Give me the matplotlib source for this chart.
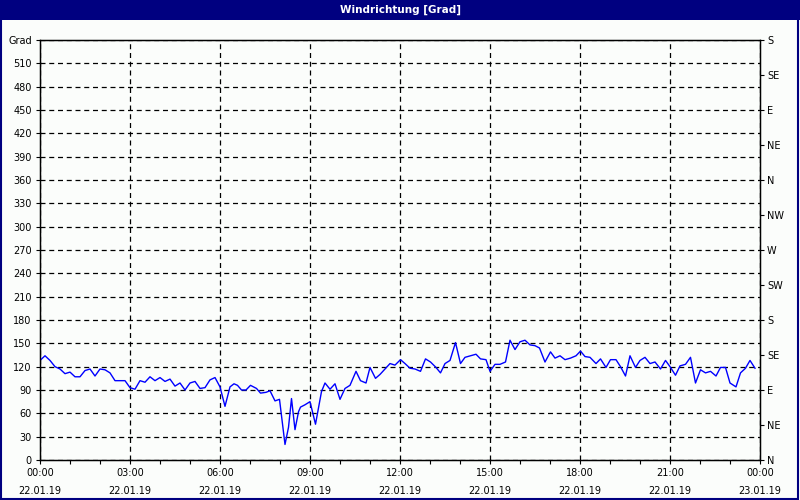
import matplotlib
matplotlib.use("Agg")
import matplotlib.pyplot as plt
import numpy as np
from matplotlib.patches import Rectangle

TITLE = "Windrichtung [Grad]"

# time in minutes after 00:00 on 22.01.19, wind direction in degrees
MINUTES = [
    0, 10, 20, 30, 40, 50, 60, 70, 80, 90, 100, 110, 120, 130, 140, 150, 160, 170,
    180, 190, 200, 210, 220, 230, 240, 250, 260, 270, 280, 290, 300, 310, 320, 330,
    340, 350, 360, 370, 380, 388, 395, 403, 412, 421, 433, 441, 452, 460, 470, 479,
    490, 497, 503, 510, 517, 521, 530, 540, 551, 563, 570, 580, 590, 600, 610, 620,
    632, 641, 652, 660, 671, 680, 690, 700, 710, 721, 730, 740, 750, 761, 771, 781,
    792, 801, 810, 820, 831, 841, 850, 861, 872, 881, 892, 900, 910, 920, 931, 940,
    950, 960, 970, 980, 990, 999, 1010, 1021, 1030, 1040, 1050, 1061, 1072, 1081,
    1090, 1100, 1112, 1121, 1132, 1141, 1152, 1161, 1171, 1180, 1191, 1200, 1210,
    1220, 1230, 1241, 1251, 1260, 1271, 1280, 1291, 1301, 1311, 1321, 1331, 1341,
    1352, 1361, 1371, 1380, 1392, 1401, 1411, 1420, 1430,
]
DIRECTION = [
    128, 134, 128, 120, 117, 111, 113, 107, 107, 115, 117, 108, 117, 116, 112, 102, 102, 102,
    93, 91, 102, 100, 107, 102, 106, 101, 104, 95, 99, 90, 99, 101, 92, 93,
    103, 106, 94, 69, 94, 98, 96, 90, 90, 96, 92, 86, 87, 89, 76, 78,
    20, 42, 79, 39, 62, 68, 71, 75, 46, 88, 99, 91, 98, 78, 92, 96,
    114, 102, 99, 119, 105, 110, 117, 124, 122, 129, 124, 118, 117, 114, 130, 126,
    119, 112, 124, 128, 151, 124, 132, 134, 136, 130, 129, 114, 123, 123, 126, 154,
    142, 152, 154, 148, 147, 144, 126, 139, 131, 134, 129, 131, 134, 140,
    133, 132, 124, 130, 119, 129, 129, 120, 108, 134, 119, 128, 132,
    124, 126, 117, 128, 120, 109, 121, 123, 132, 99, 116, 112, 114,
    108, 119, 119, 99, 94, 112, 118, 128, 118,
]

LEFT_TICKS = list(range(0, 541, 30))
LEFT_LABELS = [str(v) for v in range(0, 511, 30)] + ["Grad"]
RIGHT_TICKS = list(range(0, 541, 45))
RIGHT_LABELS = ["N", "NE", "E", "SE", "S", "SW", "W", "NW", "N", "NE", "E", "SE", "S"]
X_TICKS = list(range(0, 25, 3))
X_LABELS = [
    "00:00\n22.01.19", "03:00\n22.01.19", "06:00\n22.01.19", "09:00\n22.01.19",
    "12:00\n22.01.19", "15:00\n22.01.19", "18:00\n22.01.19", "21:00\n22.01.19",
    "00:00\n23.01.19",
]

NAVY = "#000080"
BG = "#fbfdfb"
DASH = (0, (4, 3))

plt.rcParams["font.family"] = ["DejaVu Sans"]

fig = plt.figure(figsize=(8, 5), dpi=100, facecolor=BG)

# title bar and window frame
fig.patches.append(Rectangle((0, 0.96), 1, 0.04, transform=fig.transFigure,
                             facecolor=NAVY, edgecolor="none", zorder=0))
fig.patches.append(Rectangle((0.001, 0.002), 0.997, 0.997, transform=fig.transFigure,
                             facecolor="none", edgecolor=NAVY, linewidth=1.5, zorder=5))
fig.text(0.5, 0.981, TITLE, ha="center", va="center", color="white",
         fontsize=7.5, fontweight="bold")

ax = fig.add_axes([0.05, 0.08, 0.9, 0.84])
ax.set_facecolor(BG)

hours = np.array(MINUTES) / 60.0
ax.plot(hours, DIRECTION, color="#0000ff", linewidth=1.0, zorder=3)

ax.set_xlim(0, 24)
ax.set_ylim(0, 540)

ax.set_yticks(LEFT_TICKS)
ax.set_yticklabels(LEFT_LABELS, fontsize=7)
ax.set_xticks(X_TICKS)
ax.set_xticklabels(X_LABELS, fontsize=7, linespacing=2.0)
ax.set_xticks(range(0, 25), minor=True)

ax.grid(True, which="major", color="black", linestyle=DASH, linewidth=0.9)
ax.tick_params(axis="both", which="major", length=3, width=0.8, colors="black", pad=3)
ax.tick_params(axis="x", which="minor", length=3, width=0.8)
ax.tick_params(axis="x", which="major", pad=3)

for spine in ax.spines.values():
    spine.set_color("black")
    spine.set_linewidth(1.0)

ax2 = ax.twinx()
ax2.set_ylim(0, 540)
ax2.set_yticks(RIGHT_TICKS)
ax2.set_yticklabels(RIGHT_LABELS, fontsize=7)
ax2.tick_params(axis="y", length=3, width=0.8, pad=2)

fig.savefig("out.png", dpi=100, facecolor=BG)
